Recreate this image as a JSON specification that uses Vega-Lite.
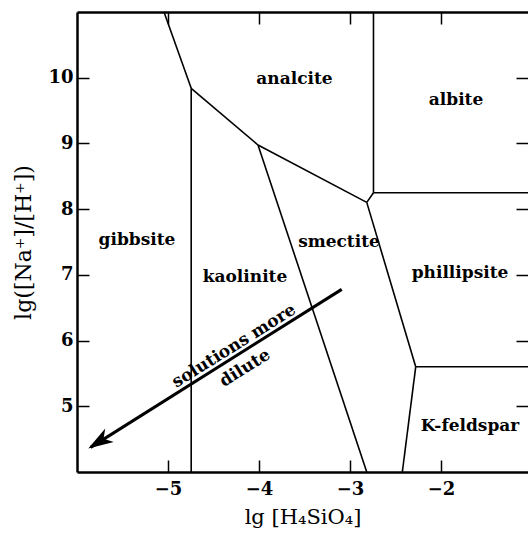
{
  "$schema": "https://vega.github.io/schema/vega-lite/v6.json",
  "autosize": {"type": "none"},
  "padding": {"left": 77, "top": 12, "right": 0, "bottom": 63},
  "width": 451,
  "height": 460,
  "background": "white",
  "view": {"stroke": null},
  "config": {
    "font": "DejaVu Serif",
    "axis": {"grid": false, "domainColor": "black", "tickColor": "black", "labelColor": "black", "titleColor": "black", "labelFont": "DejaVu Serif", "titleFont": "DejaVu Serif", "titleFontWeight": "normal", "labelFontWeight": "bold", "domainWidth": 2.5, "tickWidth": 1.5, "tickSize": -12}
  },
  "resolve": {"axis": {"x": "independent", "y": "independent"}},
  "layer": [
    {
      "data": {"values": [
        {"seg": "A", "x": -5.044, "y": 11, "x2": -4.745, "y2": 9.839},
        {"seg": "B", "x": -4.745, "y": 9.839, "x2": -4.745, "y2": 4},
        {"seg": "C", "x": -4.745, "y": 9.839, "x2": -4.011, "y2": 8.976},
        {"seg": "D", "x": -4.011, "y": 8.976, "x2": -2.816, "y2": 8.103},
        {"seg": "E", "x": -2.816, "y": 8.103, "x2": -2.742, "y2": 8.25},
        {"seg": "F", "x": -2.742, "y": 8.25, "x2": -2.742, "y2": 11},
        {"seg": "G", "x": -2.742, "y": 8.25, "x2": -1.044, "y2": 8.25},
        {"seg": "H", "x": -4.011, "y": 8.976, "x2": -2.816, "y2": 4},
        {"seg": "I", "x": -2.816, "y": 8.103, "x2": -2.278, "y2": 5.601},
        {"seg": "J", "x": -2.278, "y": 5.601, "x2": -1.044, "y2": 5.601},
        {"seg": "K", "x": -2.278, "y": 5.601, "x2": -2.425, "y2": 4}
      ]},
      "mark": {"type": "rule", "color": "black", "strokeWidth": 1.6},
      "encoding": {
        "x": {"field": "x", "type": "quantitative", "scale": {"domain": [-6, -1.044], "nice": false, "zero": false},
              "axis": {"orient": "bottom", "values": [-5, -4, -3, -2], "title": "lg [H₄SiO₄]", "labelFontSize": 18, "titleFontSize": 21, "labelPadding": 20, "titlePadding": 8}},
        "y": {"field": "y", "type": "quantitative", "scale": {"domain": [4, 11], "nice": false, "zero": false},
              "axis": {"orient": "left", "values": [5, 6, 7, 8, 9, 10], "title": "lg([Na⁺]/[H⁺])", "labelFontSize": 18, "titleFontSize": 22, "labelPadding": 16, "titlePadding": 12}},
        "x2": {"field": "x2"},
        "y2": {"field": "y2"}
      }
    },
    {
      "data": {"values": [{"x": -3.091, "y": 6.779, "x2": -5.85, "y2": 4.375}]},
      "mark": {"type": "rule", "color": "black", "strokeWidth": 3},
      "encoding": {
        "x": {"field": "x", "type": "quantitative", "axis": {"orient": "top", "values": [-5, -4, -3, -2], "labels": false, "title": null}},
        "y": {"field": "y", "type": "quantitative", "axis": {"orient": "right", "values": [5, 6, 7, 8, 9, 10], "labels": false, "title": null, "domain": false}},
        "x2": {"field": "x2"},
        "y2": {"field": "y2"}
      }
    },
    {
      "data": {"values": [{"x": -5.876, "y": 4.359}]},
      "mark": {"type": "point", "shape": "M0,0 L-0.32,1 L0,0.72 L0.32,1 Z", "size": 2500, "angle": 238, "filled": true, "color": "black", "opacity": 1, "strokeWidth": 0},
      "encoding": {
        "x": {"field": "x", "type": "quantitative", "axis": null},
        "y": {"field": "y", "type": "quantitative", "axis": null}
      }
    },
    {
      "data": {"values": [
        {"label": "analcite", "x": -3.61, "y": 9.98},
        {"label": "albite", "x": -1.835, "y": 9.66},
        {"label": "gibbsite", "x": -5.341, "y": 7.53},
        {"label": "kaolinite", "x": -4.154, "y": 6.97},
        {"label": "smectite", "x": -3.121, "y": 7.5},
        {"label": "phillipsite", "x": -1.791, "y": 7.03},
        {"label": "K-feldspar", "x": -1.681, "y": 4.7}
      ]},
      "mark": {"type": "text", "fontSize": 17, "fontWeight": "bold", "align": "center", "baseline": "middle", "color": "black", "font": "DejaVu Serif"},
      "encoding": {
        "x": {"field": "x", "type": "quantitative", "axis": null},
        "y": {"field": "y", "type": "quantitative", "axis": null},
        "text": {"field": "label"}
      }
    },
    {
      "data": {"values": [
        {"label": "solutions more", "x": -4.275, "y": 5.916},
        {"label": "dilute", "x": -4.154, "y": 5.581}
      ]},
      "mark": {"type": "text", "fontSize": 17, "fontWeight": "bold", "align": "center", "baseline": "middle", "angle": -32, "color": "black", "font": "DejaVu Serif"},
      "encoding": {
        "x": {"field": "x", "type": "quantitative", "axis": null},
        "y": {"field": "y", "type": "quantitative", "axis": null},
        "text": {"field": "label"}
      }
    }
  ]
}
